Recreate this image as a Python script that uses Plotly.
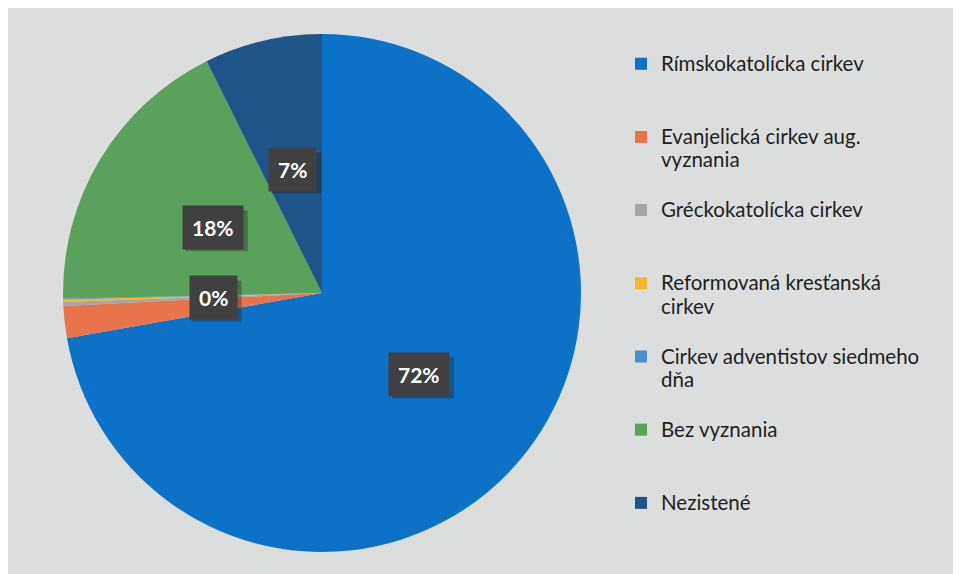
import math
import plotly.graph_objects as go

# ---- data ----
categories = [
    "Rímskokatolícka cirkev",
    "Evanjelická cirkev aug.<br>vyznania",
    "Gréckokatolícka cirkev",
    "Reformovaná kresťanská<br>cirkev",
    "Cirkev adventistov siedmeho<br>dňa",
    "Bez vyznania",
    "Nezistené",
]
shares = [72.2, 2.0, 0.25, 0.15, 0.05, 18.0, 7.35]
shown_labels = ["72%", "", "0%", "", "", "18%", "7%"]
colors = ["#0b72c8", "#e9734a", "#a5a5a5", "#f2b731", "#4a8fd2", "#5aa25c", "#1f5488"]

# page body adds an 8px margin; figure sized to fill the rest of the window
OFF = 8
W, H = 961 - OFF, 574 - OFF
cx_px, cy_px = 322 - OFF, 293 - OFF
radius_px = 259.5
M_T = cy_px - radius_px
M_B = H - cy_px - radius_px
plot_h = H - M_T - M_B
dom_x = [(cx_px - radius_px) / W, (cx_px + radius_px) / W]

# legend text padded to 3 lines per entry so entries spread like the original
def legend_text(t, last=False):
    n = t.count("<br>") + 1
    pad = "" if last else "<br> " * (3 - n)
    return "<span style='font-size:20.5px'>" + t + "</span>" + pad

fig = go.Figure(go.Pie(
    labels=[legend_text(c, i == len(categories) - 1) for i, c in enumerate(categories)],
    values=shares,
    sort=False,
    direction="clockwise",
    rotation=0,
    marker=dict(colors=colors, line=dict(width=0)),
    textinfo="none",
    hoverinfo="skip",
    domain=dict(x=dom_x, y=[0, 1]),
))

# data label boxes, placed at mid-angle of each slice
total = sum(shares)
label_dist = {0: 0.49, 2: 0.42, 5: 0.49, 6: 0.49}
shapes = []
cum = 0.0
for i, v in enumerate(shares):
    mid = (cum + v / 2) / total * 2 * math.pi
    cum += v
    if not shown_labels[i]:
        continue
    f = label_dist.get(i, 0.49)
    px = cx_px + f * radius_px * math.sin(mid)
    py_off = f * radius_px * math.cos(mid)  # upward offset
    xp = px / W
    yp = 0.5 + py_off / plot_h
    half_w = (12 * len(shown_labels[i]) + 25) / 2
    # soft shadow behind the box
    shapes.append(dict(type="rect", xref="paper", yref="paper",
                       xsizemode="pixel", ysizemode="pixel", xanchor=xp, yanchor=yp,
                       x0=-half_w + 3, x1=half_w + 4, y0=-20 - 4, y1=20 - 3,
                       fillcolor="rgba(30,30,30,0.35)", line=dict(width=0), layer="above"))
    fig.add_annotation(x=xp, y=yp, xref="paper", yref="paper", showarrow=False,
                       xanchor="center", yanchor="middle",
                       text="<b>" + shown_labels[i] + "</b>",
                       font=dict(family="Lato", size=21, color="#ffffff"),
                       bgcolor="#404040", borderpad=9)

fig.update_layout(
    width=W, height=H,
    margin=dict(l=0, r=0, t=M_T, b=M_B, autoexpand=False),
    paper_bgcolor="#dcdedd",
    plot_bgcolor="#dcdedd",
    showlegend=True,
    legend=dict(
        x=613 / W, xanchor="left",
        y=1 - (37 - M_T) / plot_h, yanchor="top",
        valign="top",
        font=dict(family="Lato", size=18, color="#1e1e1e"),
        bgcolor="rgba(0,0,0,0)",
        itemclick=False, itemdoubleclick=False,
    ),
    shapes=shapes,
)

fig.write_html("out.html")
